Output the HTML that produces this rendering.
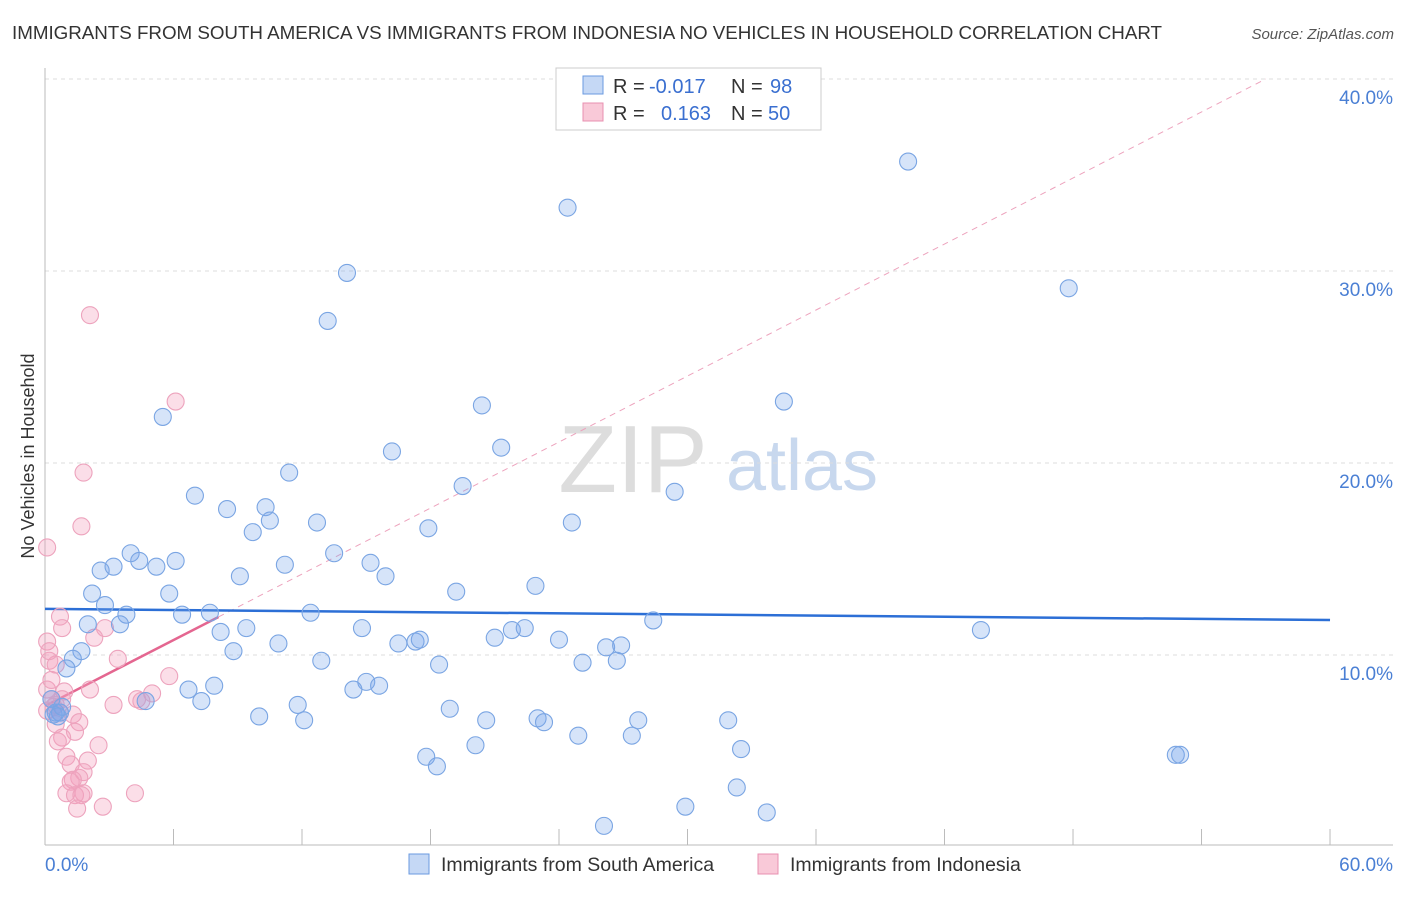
<!DOCTYPE html>
<html><head><meta charset="utf-8"><style>
body{margin:0;background:#fff;font-family:"Liberation Sans",sans-serif;}
svg text{font-family:"Liberation Sans",sans-serif;}
</style></head><body>
<svg id="chart" width="1406" height="892" viewBox="0 0 1406 892">
<text x="12" y="39" font-size="18.8" fill="#333" textLength="1150">IMMIGRANTS FROM SOUTH AMERICA VS IMMIGRANTS FROM INDONESIA NO VEHICLES IN HOUSEHOLD CORRELATION CHART</text>
<text x="1394" y="39" font-size="15" fill="#555" font-style="italic" text-anchor="end">Source: ZipAtlas.com</text>
<text x="34" y="456" font-size="18" fill="#333" text-anchor="middle" transform="rotate(-90 34 456)">No Vehicles in Household</text>
<g><text x="633" y="492" font-size="96" fill="#ddd" text-anchor="middle" font-family="Liberation Serif">ZIP</text><text x="802" y="490" font-size="72" fill="#c8d8ee" text-anchor="middle">atlas</text></g>
<g id="grid"></g><g id="axes"></g><g id="lines"></g><g id="pts"></g>
<g>
<rect x="556" y="68" width="265" height="62" fill="#fff" stroke="#ccc"/>
<rect x="583" y="76" width="20" height="18" fill="#c5d8f5" stroke="#6a9ae0"/>
<rect x="583" y="103" width="20" height="18" fill="#f9c9d8" stroke="#e890b0"/>
<text x="613" y="93" font-size="20" fill="#333">R = <tspan x="649" fill="#3a6fd0">-0.017</tspan><tspan x="731">N = </tspan><tspan x="770" fill="#3a6fd0">98</tspan></text>
<text x="613" y="120" font-size="20" fill="#333">R = <tspan x="661" fill="#3a6fd0">0.163</tspan><tspan x="731">N = </tspan><tspan x="768" fill="#3a6fd0">50</tspan></text>
</g>
<g>
<rect x="409" y="854" width="20" height="20" fill="#c5d8f5" stroke="#6a9ae0"/>
<text x="441" y="871" font-size="19.5" fill="#333">Immigrants from South America</text>
<rect x="758" y="854" width="20" height="20" fill="#f9c9d8" stroke="#e890b0"/>
<text x="790" y="871" font-size="19.5" fill="#333">Immigrants from Indonesia</text>
</g>
</svg>
<script>
const blueX=[40.3,24.4,14.1,47.8,13.2,34.5,5.5,20.4,16.2,21.3,11.4,19.5,29.4,7.0,8.5,10.3,10.5,12.7,24.6,17.9,9.7,4.0,13.5,4.4,6.1,5.2,2.6,3.2,15.2,9.1,15.9,11.2,22.9,19.2,2.2,5.8,2.8,3.8,7.7,6.4,12.4,28.4,2.0,3.5,8.2,9.4,14.8,21.0,21.8,22.4,17.3,16.5,17.5,10.9,24.0,26.2,26.9,43.7,1.7,8.8,1.3,1.0,12.9,18.4,25.1,26.7,15.0,15.6,14.4,7.9,6.7,4.7,7.3,11.8,18.9,10.0,12.1,20.6,23.0,23.3,27.7,31.9,0.3,0.7,0.5,24.9,27.4,32.5,20.1,17.8,18.3,52.8,53.0,32.3,29.9,33.7,26.1,0.4,0.8,0.6];
const blueY=[35.7,33.3,29.9,29.1,27.4,23.2,22.4,23.0,20.6,20.8,19.5,18.8,18.5,18.3,17.6,17.7,17.0,16.9,16.9,16.6,16.4,15.3,15.3,14.9,14.9,14.6,14.4,14.6,14.8,14.1,14.1,14.7,13.6,13.3,13.2,13.2,12.6,12.1,12.2,12.1,12.2,11.8,11.6,11.6,11.2,11.4,11.4,10.9,11.3,11.4,10.7,10.6,10.8,10.6,10.8,10.4,10.5,11.3,10.2,10.2,9.8,9.3,9.7,9.5,9.6,9.7,8.6,8.4,8.2,8.4,8.2,7.6,7.6,7.4,7.2,6.8,6.6,6.6,6.7,6.5,6.6,6.6,7.7,7.0,7.0,5.8,5.8,5.1,5.3,4.7,4.2,4.8,4.8,3.1,2.1,1.8,1.1,6.9,7.3,6.8];
const pinkX=[0.1,2.1,6.1,1.8,1.7,0.7,0.8,2.8,0.1,2.3,0.2,3.4,0.5,5.8,2.1,5.0,0.9,4.3,4.5,3.2,0.3,0.5,0.1,0.7,1.3,1.6,0.5,1.4,0.8,0.6,2.5,2.0,1.0,1.2,1.8,1.6,1.3,1.2,1.8,1.0,1.4,1.7,4.2,2.7,1.5,0.4,0.1,0.3,0.2,0.8];
const pinkY=[15.6,27.7,23.2,19.5,16.7,12.0,11.4,11.4,10.7,10.9,9.7,9.8,9.5,8.9,8.2,8.0,8.1,7.7,7.6,7.4,7.7,7.4,7.1,7.0,6.9,6.5,6.4,6.0,5.7,5.5,5.3,4.5,4.7,4.3,3.9,3.6,3.5,3.4,2.8,2.8,2.7,2.7,2.8,2.1,2.0,7.3,8.2,8.7,10.2,7.7];
const blueTrend=[12.4,11.82];
const pinkTrend=[7.34,12.0];
const pinkDashEnd=[57.0,40.0];
const xTicks=[0,6,12,18,24,30,36,42,48,54,60];
const yTicks=[10,20,30,40];
const yTickLabels=["10.0%","20.0%","30.0%","40.0%"];

const NS="http://www.w3.org/2000/svg";
const sx=v=>45+v*21.417, sy=v=>847-v*19.2;
function mk(tag,attrs,parent){const e=document.createElementNS(NS,tag);for(const k in attrs)e.setAttribute(k,attrs[k]);document.getElementById(parent).appendChild(e);return e;}
yTicks.forEach((t,i)=>{
  const g=mk('line',{x1:45,x2:1393,y1:sy(t),y2:sy(t),stroke:'#ddd','stroke-dasharray':'4,4'},'grid');
  
  
  const tx=mk('text',{x:1393,y:sy(t)+25,'font-size':19,fill:'#4a7fd4','text-anchor':'end'},'axes');
  tx.textContent=yTickLabels[i];
  
  
});
const ax=mk('line',{x1:45,x2:45,y1:68,y2:845,stroke:'#bbb'},'axes');


const bx=mk('line',{x1:45,x2:1393,y1:845,y2:845,stroke:'#bbb'},'axes');


xTicks.forEach(t=>{
  const l=mk('line',{x1:sx(t),x2:sx(t),y1:829,y2:845,stroke:'#bbb'},'axes');
  
  
});
const x0=mk('text',{x:45,y:871,'font-size':19,fill:'#4a7fd4'},'axes');x0.textContent="0.0%";


const x1=mk('text',{x:1393,y:871,'font-size':19,fill:'#4a7fd4','text-anchor':'end'},'axes');x1.textContent="60.0%";



for(let i=0;i<pinkX.length;i++){
  const c=mk('circle',{cx:sx(pinkX[i]),cy:sy(pinkY[i]),r:8.5,fill:'rgba(244,160,190,0.35)',stroke:'#eda3bd','stroke-width':1.1},'pts');
  
  
}
for(let i=0;i<blueX.length;i++){
  const c=mk('circle',{cx:sx(blueX[i]),cy:sy(blueY[i]),r:8.5,fill:'rgba(120,165,235,0.3)',stroke:'#7aa5e3','stroke-width':1.1},'pts');
  
  
}
const pd=mk('line',{x1:sx(8.1),y1:sy(pinkTrend[0]+(pinkDashEnd[1]-pinkTrend[0])*8.1/pinkDashEnd[0]),x2:sx(pinkDashEnd[0]),y2:sy(pinkDashEnd[1]),stroke:'#eda3bd','stroke-dasharray':'6,5','stroke-width':1},'lines');


const ps=mk('line',{x1:sx(0),y1:sy(pinkTrend[0]),x2:sx(8.1),y2:sy(pinkTrend[0]+(pinkDashEnd[1]-pinkTrend[0])*8.1/pinkDashEnd[0]),stroke:'#e46690','stroke-width':2.5},'lines');


const bl=mk('line',{x1:sx(0),y1:sy(blueTrend[0]),x2:sx(60),y2:sy(blueTrend[1]),stroke:'#2c6fd6','stroke-width':2.5},'lines');


</script>
</body></html>
